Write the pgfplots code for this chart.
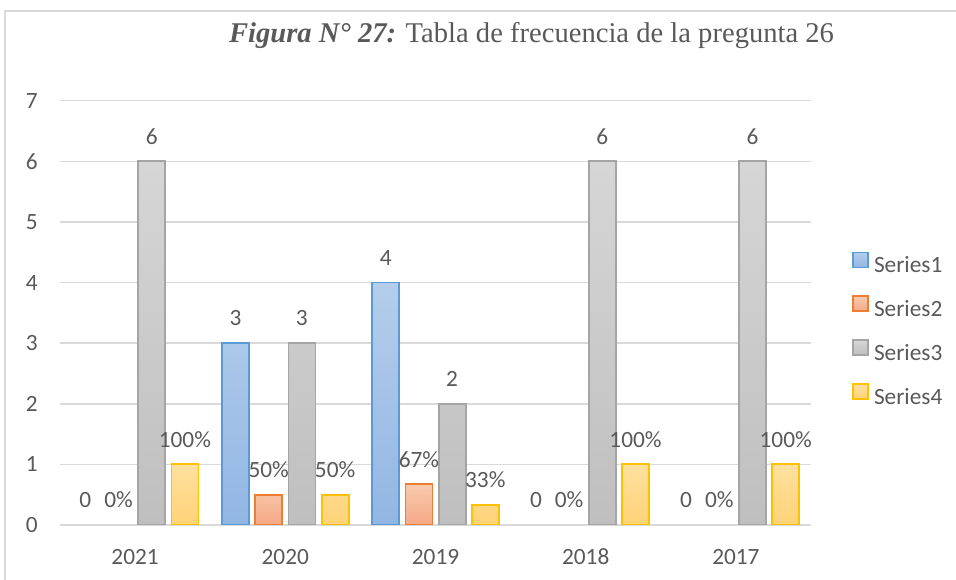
\documentclass[border=0pt]{standalone}
\usepackage{fontspec}
\setmainfont{Carlito}
\newfontfamily\titlefont{Liberation Serif}
\usepackage{pgfplots}
\pgfplotsset{compat=1.18}
\definecolor{txt}{HTML}{595959}
\definecolor{gridc}{HTML}{D9D9D9}
\definecolor{sA}{HTML}{5B9BD5}
\definecolor{sAt}{HTML}{B4CDEB}
\definecolor{sAb}{HTML}{92B6E3}
\definecolor{sB}{HTML}{ED7D31}
\definecolor{sBt}{HTML}{F8CBAD}
\definecolor{sBb}{HTML}{F4A886}
\definecolor{sC}{HTML}{A5A5A5}
\definecolor{sCt}{HTML}{D6D6D6}
\definecolor{sCb}{HTML}{BFBFBF}
\definecolor{sD}{HTML}{FFC000}
\definecolor{sDt}{HTML}{FFE09E}
\definecolor{sDb}{HTML}{FFD377}

\pgfplotsset{
  mybar/.style={ybar, bar width=27bp, line width=1.8bp, bar shift=#1,
    legend image code/.code={\draw[##1] (0bp,0bp) rectangle (15bp,15bp);}},
  lbl/.style={nodes near coords, point meta=explicit symbolic,
    every node near coord/.append style={font=\fontsize{23.4}{26}\selectfont,
      text=txt, inner sep=0pt, anchor=center, xshift=#1, yshift=25bp}},
}

\begin{document}
\begin{tikzpicture}[x=1bp,y=1bp]
\draw[gridc, line width=1.5bp] (5,0) -- (5,569) -- (956,569);
\node[anchor=base, text=txt, inner sep=0pt, font=\titlefont\fontsize{28.7}{32}\selectfont]
  at (531.5,537) {\textbf{\textit{Figura N° 27:}} Tabla de frecuencia de la pregunta 26};
\begin{axis}[
  at={(60bp,55bp)}, anchor=south west,
  scale only axis, width=751bp, height=424.3bp,
  xmin=-0.5, xmax=4.5, ymin=0, ymax=7,
  xtick={0,...,4}, xticklabels={2021,2020,2019,2018,2017},
  ytick={0,...,7},
  ymajorgrids, grid style={gridc, line width=1.5bp},
  axis line style={draw=none}, major tick length=0pt,
  tick label style={font=\fontsize{23.4}{26}\selectfont, text=txt, inner sep=0pt},
  yticklabel style={xshift=-22bp},
  xticklabel style={yshift=-24bp, text height=15bp, text depth=0pt},
  /pgf/number format/assume math mode=true,
  legend style={at={(1.0546,0.4596)}, anchor=west, draw=none, fill=none,
    inner sep=0pt, row sep=18.4bp, font=\fontsize{23.4}{26}\selectfont, text=txt,
    nodes={inner sep=0pt, text height=15bp, text depth=4bp},
    /tikz/every odd column/.append style={column sep=5bp}},
  legend cell align=left,
]
\addplot[mybar=-49.8bp, draw=sA, top color=sAt, bottom color=sAb, lbl=-49.8bp]
  coordinates {(1,3) [3] (2,4) [4]};
\addplot[mybar=-16.6bp, draw=sB, top color=sBt, bottom color=sBb, lbl=-16.6bp]
  coordinates {(1,0.5) [50\%] (2,0.67) [67\%]};
\addplot[mybar=16.6bp, draw=sC, top color=sCt, bottom color=sCb, lbl=16.6bp]
  coordinates {(0,6) [6] (1,3) [3] (2,2) [2] (3,6) [6] (4,6) [6]};
\addplot[mybar=49.8bp, draw=sD, top color=sDt, bottom color=sDb, lbl=49.8bp]
  coordinates {(0,1) [100\%] (1,0.5) [50\%] (2,0.33) [33\%] (3,1) [100\%] (4,1) [100\%]};
\legend{Series1,Series2,Series3,Series4}
% zero values: labels only, no bar drawn
\addplot[mybar=-49.8bp, draw=none, fill=none, forget plot, lbl=-49.8bp]
  coordinates {(0,0) [0] (3,0) [0] (4,0) [0]};
\addplot[mybar=-16.6bp, draw=none, fill=none, forget plot, lbl=-16.6bp]
  coordinates {(0,0) [0\%] (3,0) [0\%] (4,0) [0\%]};
\end{axis}
\pgfresetboundingbox
\path[use as bounding box] (0,0) rectangle (956,580);
\end{tikzpicture}
\end{document}
